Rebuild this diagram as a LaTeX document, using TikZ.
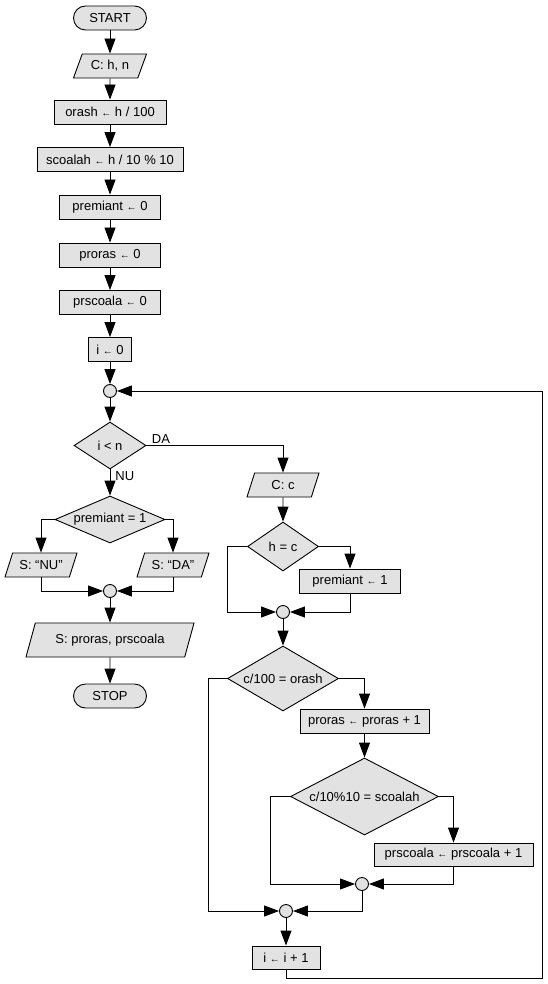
\documentclass[tikz,border=0pt]{standalone}
\usepackage{fontspec}
\setmainfont{Liberation Sans}
\usetikzlibrary{shapes.geometric,arrows.meta}
\newcommand{\asg}{{\fontsize{10}{10}\selectfont ←}}
\definecolor{boxfill}{HTML}{E2E2E2}
\tikzset{
  base/.style={draw, line width=0.9pt, fill=boxfill, font=\fontsize{13}{15}\selectfont, inner sep=2pt},
  term/.style={base, rectangle, rounded corners=12pt, minimum width=73pt, minimum height=24pt},
  proc/.style={base, rectangle, minimum height=24pt},
  io/.style={base, trapezium, trapezium left angle=60, trapezium right angle=120, trapezium stretches body, minimum height=24pt},
  dec/.style={base, diamond, inner sep=0pt},
  junc/.style={draw, line width=0.9pt, fill=boxfill, circle, minimum size=13pt, inner sep=0pt},
  arr/.style={line width=0.9pt, -{Triangle[length=15pt,width=11pt]}},
  lbl/.style={font=\fontsize{13}{15}\selectfont, inner sep=2pt}
}
\begin{document}
\begin{tikzpicture}[x=1pt,y=-1pt]
\useasboundingbox (0,0) rectangle (547,984);
% left column
\node[term] (start) at (110,18) {START};
\node[io, minimum width=73pt, inner xsep=0pt] (chn) at (110,66) {C: h, n};
\node[proc, minimum width=112pt] (orash) at (110,112) {orash \asg{} h / 100};
\node[proc, minimum width=146pt] (scoalah) at (110,159.5) {scoalah \asg{} h / 10 \% 10};
\node[proc, minimum width=101pt] (prem0) at (110,207) {premiant \asg{} 0};
\node[proc, minimum width=101pt] (proras0) at (110,255) {proras \asg{} 0};
\node[proc, minimum width=101pt] (prsc0) at (110,302.5) {prscoala \asg{} 0};
\node[proc, minimum width=43pt] (i0) at (110,349.5) {i \asg{} 0};
\node[junc] (j1) at (110,391) {};
\node[dec, minimum width=72pt, minimum height=47pt, aspect=1.53] (cond1) at (110,445.5) {i < n};
\node[dec, minimum width=110pt, minimum height=47pt, aspect=2.34] (prem1) at (110,519.5) {premiant = 1};
\node[io, minimum width=72pt] (snu) at (41,565) {S: “NU”};
\node[io, minimum width=72pt] (sda) at (173,565) {S: “DA”};
\node[junc] (j2) at (110,591) {};
\node[io, minimum width=168pt, minimum height=34pt] (sout) at (110,640) {S: proras, prscoala};
\node[term] (stop) at (110,696) {STOP};
% right column
\node[io, minimum width=72pt] (cc) at (283,485) {C: c};
\node[dec, minimum width=71pt, minimum height=49pt, aspect=1.45] (hc) at (283,546.5) {h = c};
\node[proc, minimum width=101pt] (pm1) at (350,581) {premiant \asg{} 1};
\node[junc] (j3) at (283,612) {};
\node[dec, minimum width=111pt, minimum height=65pt, aspect=1.7] (co) at (283,678.5) {c/100 = orash};
\node[proc, minimum width=129pt] (pp1) at (364.5,721) {proras \asg{} proras + 1};
\node[dec, minimum width=148pt, minimum height=77pt, aspect=1.92] (cs) at (364.5,796.5) {c/10\%10 = scoalah};
\node[proc, minimum width=159pt, minimum height=23pt] (ps1) at (453.5,854.5) {prscoala \asg{} prscoala + 1};
\node[junc] (j4) at (362,884) {};
\node[junc] (j5) at (286,911) {};
\node[proc, minimum width=68pt, minimum height=23pt] (ii) at (286,957.5) {i \asg{} i + 1};
% helper coordinates
\coordinate (hcL) at (227,546.5);
\coordinate (coL) at (208,678.5);
\coordinate (csL) at (270,796.5);
\coordinate (loopBR) at (542,978);
% connectors main
\draw[arr] (start) -- (chn);
\draw[arr] (chn) -- (orash);
\draw[arr] (orash) -- (scoalah);
\draw[arr] (scoalah) -- (prem0);
\draw[arr] (prem0) -- (proras0);
\draw[arr] (proras0) -- (prsc0);
\draw[arr] (prsc0) -- (i0);
\draw[arr] (i0) -- (j1);
\draw[arr] (j1) -- (cond1);
\draw[arr] (cond1.east) node[lbl, anchor=south west, xshift=3pt] {DA} -| (cc.north);
\draw[arr] (cond1.south) node[lbl, anchor=north west, xshift=3pt] {NU} -- (prem1.north);
\draw[arr] (prem1.west) -| (snu.north);
\draw[arr] (prem1.east) -| (sda.north);
\draw[arr] (snu.south) |- (j2.west);
\draw[arr] (sda.south) |- (j2.east);
\draw[arr] (j2) -- (sout);
\draw[arr] (sout) -- (stop);
% right branch
\draw[arr] (cc) -- (hc);
\draw[arr] (hc.west) -- (hcL) |- (j3.west);
\draw[arr] (hc.east) -| (pm1.north);
\draw[arr] (pm1.south) |- (j3.east);
\draw[arr] (j3) -- (co);
\draw[arr] (co.east) -| (pp1.north);
\draw[arr] (co.west) -- (coL) |- (j5.west);
\draw[arr] (pp1) -- (cs);
\draw[arr] (cs.west) -- (csL) |- (j4.west);
\draw[arr] (cs.east) -| (ps1.north);
\draw[arr] (ps1.south) |- (j4.east);
\draw[arr] (j4.south) |- (j5.east);
\draw[arr] (j5) -- (ii);
\draw[arr] (ii.south) |- (loopBR) |- (j1.east);
\end{tikzpicture}
\end{document}
